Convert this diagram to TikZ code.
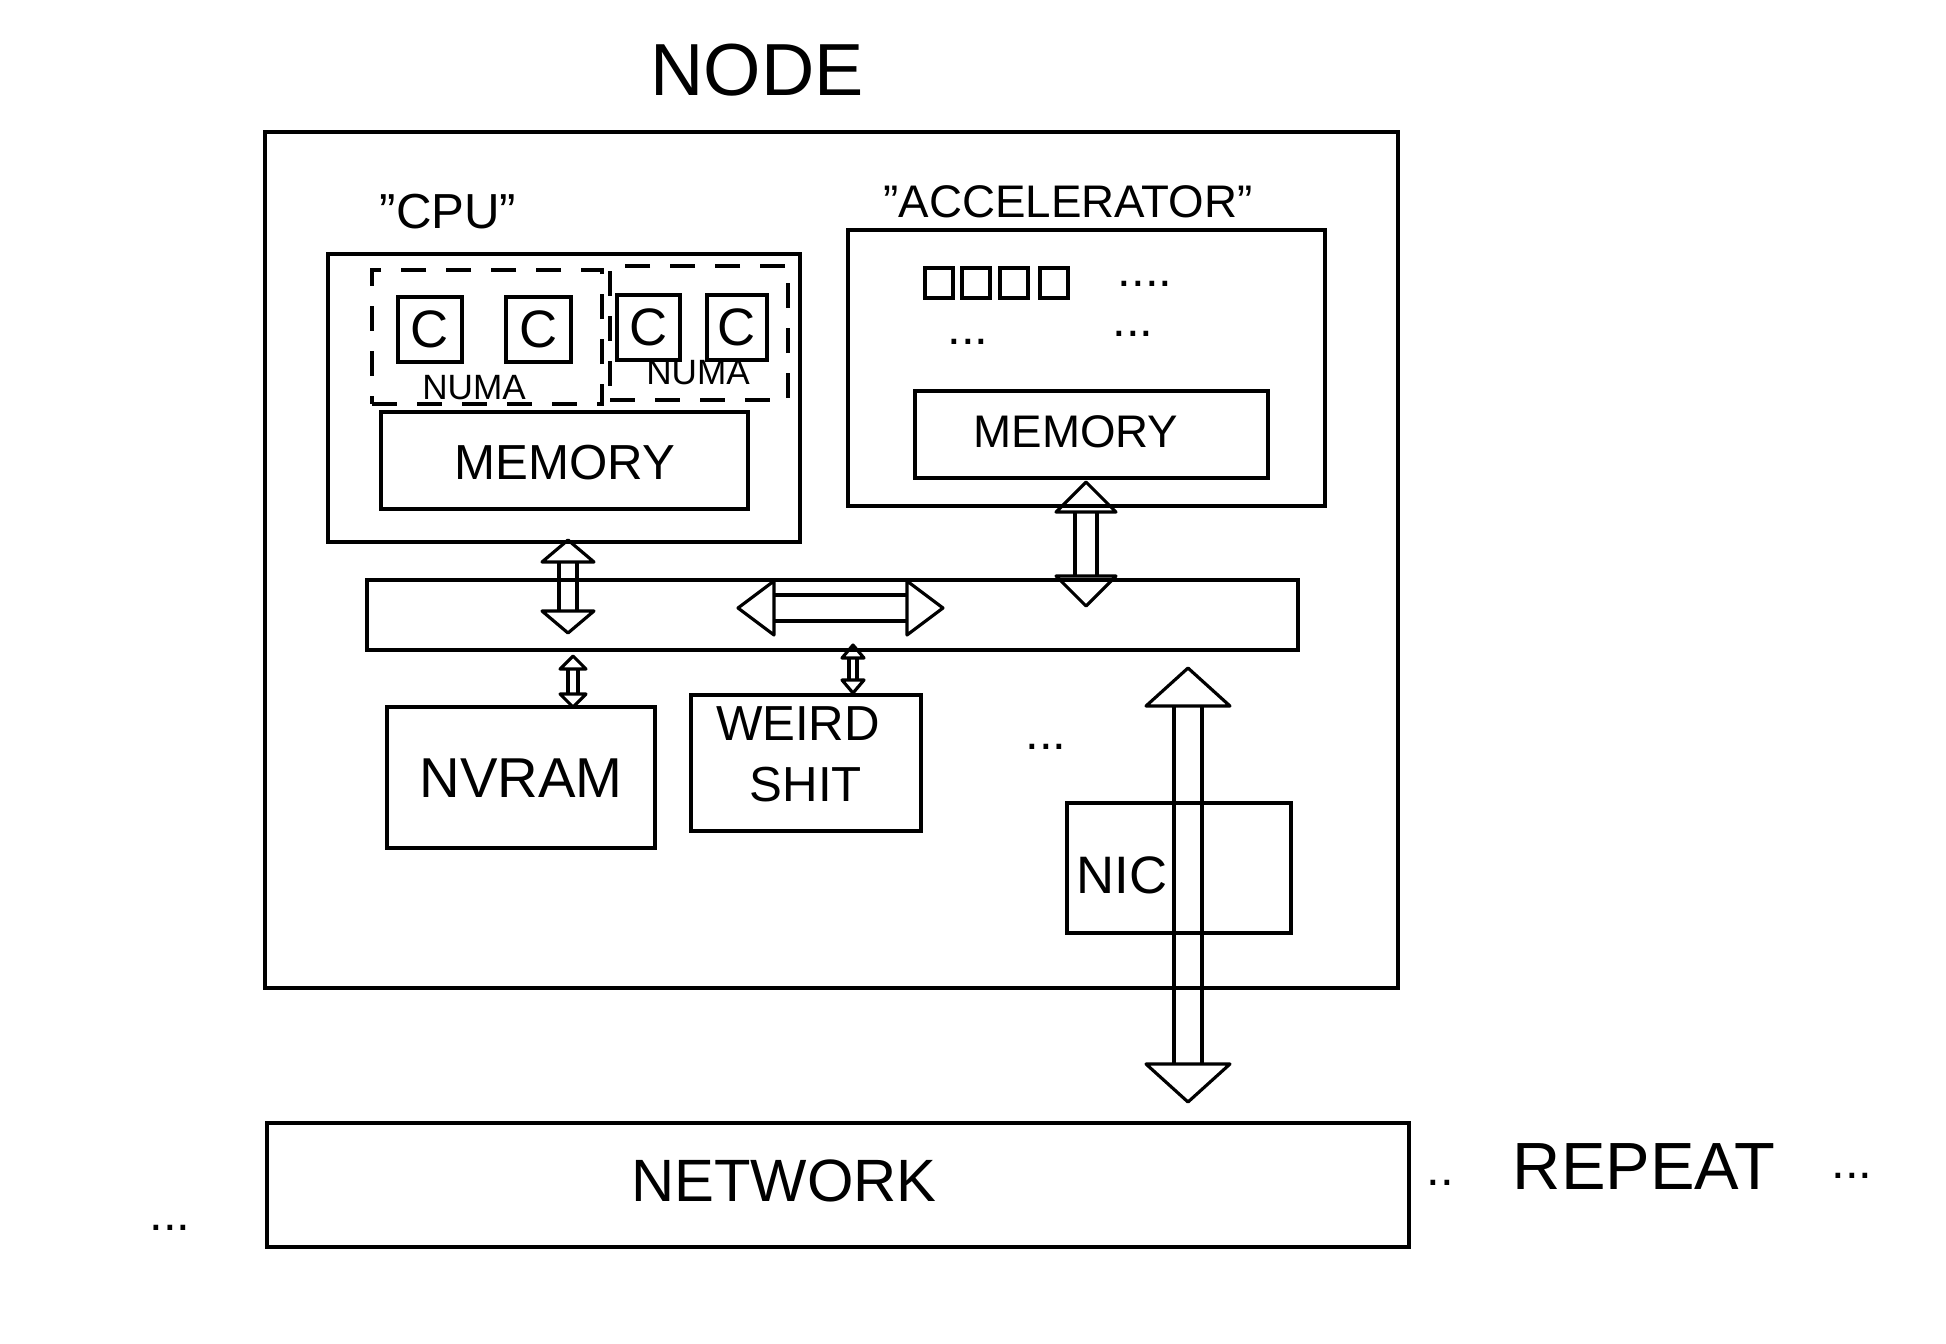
\documentclass[tikz,border=0pt]{standalone}
\usepackage{fontspec}
\setmainfont{Liberation Sans}
\usetikzlibrary{calc,fit}
\newcommand\tsz[1]{\fontsize{#1}{#1}\selectfont}
\newcommand\qq{\symbol{34}}
% hollow double-shaft arrow: #1 end A, #2 end B, #3 half gap, #4 head half width, #5 head length
\newcommand\hollowarr[5]{%
  \coordinate (ha1) at ($(#1)!#5!(#2)$);
  \coordinate (hb1) at ($(#2)!#5!(#1)$);
  \draw ($(ha1)!#3!90:(hb1)$) -- ($(hb1)!#3!-90:(ha1)$);
  \draw ($(ha1)!#3!-90:(hb1)$) -- ($(hb1)!#3!90:(ha1)$);
  \draw[line join=round] (#1) -- ($(ha1)!#4!90:(hb1)$) -- ($(ha1)!#4!-90:(hb1)$) -- cycle;
  \draw[line join=round] (#2) -- ($(hb1)!#4!90:(ha1)$) -- ($(hb1)!#4!-90:(ha1)$) -- cycle;
}
\begin{document}
\begin{tikzpicture}[x=0.1mm,y=-0.1mm,line width=0.9pt,
  box/.style={draw, inner sep=0pt},
  numabox/.style={draw, inner sep=0pt, dash pattern=on 2.5mm off 2mm},
  txt/.style={inner sep=0pt, align=center}]
\useasboundingbox (0,0) rectangle (1946,1343);

% title and outer node
\node[txt, font=\tsz{21}] (title) at (757,70) {NODE};
\node[box, fit={(265,132)(1398,988)}] (nodebox) {};

% CPU
\node[txt, font=\tsz{14}] (cpulbl) at (448,212) {\qq CPU\qq};
\node[box, fit={(328,254)(800,542)}] (cpu) {};
\node[numabox, fit={(372,270)(602,404)}] (numa1) {};
\node[numabox, fit={(610,266)(788,400)}] (numa2) {};
\node[box, fit={(398,297)(462,362)}] (c1) {};
\node[box, fit={(506,297)(571,362)}] (c2) {};
\node[box, fit={(617,295)(680,360)}] (c3) {};
\node[box, fit={(707,295)(767,360)}] (c4) {};
\node[txt, font=\tsz{15}] (c1l) at (c1) {C};
\node[txt, font=\tsz{15}] (c2l) at (c2) {C};
\node[txt, font=\tsz{15}] (c3l) at (c3) {C};
\node[txt, font=\tsz{15}] (c4l) at (c4) {C};
\node[txt, font=\tsz{10}] (numalbl1) at (474,388) {NUMA};
\node[txt, font=\tsz{10}] (numalbl2) at (698,373) {NUMA};
\node[box, fit={(381,412)(748,509)}] (cmem) {};
\node[txt, font=\tsz{14}] (cmeml) at (565,463) {MEMORY};

% Accelerator
\node[txt, font=\tsz{13}] (acclbl) at (1068,202) {\qq ACCELERATOR\qq};
\node[box, fit={(848,230)(1325,506)}] (acc) {};
\node[box, fit={(925,268)(953,298)}] (sq1) {};
\node[box, fit={(962,268)(990,298)}] (sq2) {};
\node[box, fit={(1000,268)(1028,298)}] (sq3) {};
\node[box, fit={(1040,268)(1068,298)}] (sq4) {};
\node[txt, font=\tsz{14}] (accdots1) at (1145,284) {....};
\node[txt, font=\tsz{14}] (accdots2) at (968,342) {...};
\node[txt, font=\tsz{14}] (accdots3) at (1133,334) {...};
\node[box, fit={(915,391)(1268,478)}] (amem) {};
\node[txt, font=\tsz{13}] (ameml) at (1076,432) {MEMORY};

% Bus
\node[box, fit={(367,580)(1298,650)}] (bus) {};

% Devices
\node[box, fit={(387,707)(655,848)}] (nvram) {};
\node[txt, font=\tsz{16}] (nvraml) at (521,778) {NVRAM};
\node[box, fit={(691,695)(921,831)}] (weird) {};
\node[txt, font=\tsz{14}] (weirdl1) at (798,724) {WEIRD};
\node[txt, font=\tsz{14}] (weirdl2) at (806,785) {SHIT};
\node[txt, font=\tsz{14}] (devdots) at (1046,747) {...};
\node[box, fit={(1067,803)(1291,933)}] (nic) {};
\node[txt, font=\tsz{15}] (niclbl) at (1122,875) {NIC};

% Network
\node[box, fit={(267,1123)(1409,1247)}] (net) {};
\node[txt, font=\tsz{17}] (netlbl) at (784,1181) {NETWORK};
\node[txt, font=\tsz{14}] (repdots1) at (1440,1183) {..};
\node[txt, font=\tsz{19}] (replbl) at (1644,1167) {REPEAT};
\node[txt, font=\tsz{14}] (repdots2) at (1852,1176) {...};
\node[txt, font=\tsz{14}] (leftdots) at (170,1228) {...};

% arrow end points
\coordinate (a1t) at (568,540);
\coordinate (a1b) at (568,633);
\coordinate (a2t) at (1086,482);
\coordinate (a2b) at (1086,606);
\coordinate (h1l) at (738,608);
\coordinate (h1r) at (943,608);
\coordinate (a3t) at (573,656);
\coordinate (a3b) at (573,707);
\coordinate (a4t) at (853,645);
\coordinate (a4b) at (853,693);
\coordinate (a5t) at (1188,668);
\coordinate (a5b) at (1188,1102);

\hollowarr{a1t}{a1b}{0.9mm}{2.6mm}{2.2mm}
\hollowarr{a2t}{a2b}{1.1mm}{3.0mm}{3.0mm}
\hollowarr{h1l}{h1r}{1.3mm}{2.7mm}{3.6mm}
\hollowarr{a3t}{a3b}{0.5mm}{1.3mm}{1.3mm}
\hollowarr{a4t}{a4b}{0.4mm}{1.1mm}{1.3mm}
\hollowarr{a5t}{a5b}{1.4mm}{4.2mm}{3.8mm}
\end{tikzpicture}
\end{document}
